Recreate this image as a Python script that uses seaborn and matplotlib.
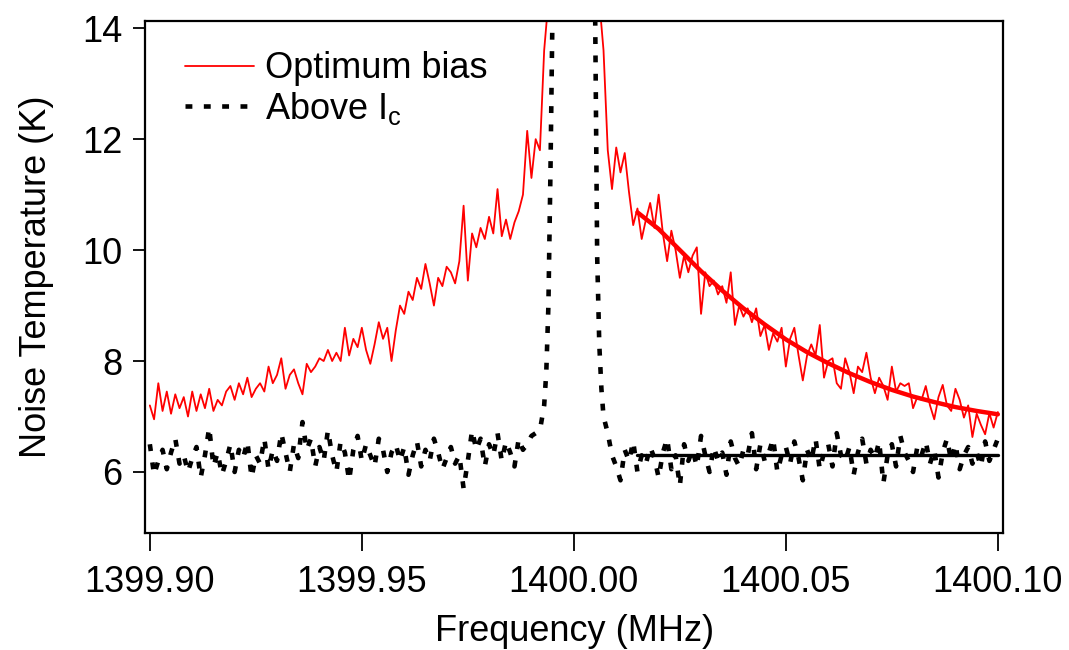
import numpy as np
import matplotlib
matplotlib.use("Agg")
import matplotlib.pyplot as plt
import seaborn as sns

# ---------------- data ----------------
# Optimum bias, lower side of the resonance (step 0.001 MHz from 1399.900)
red_left_start = 1399.900
red_left = [7.2, 6.95, 7.6, 7.1, 7.45, 7.05, 7.4, 7.15, 7.35, 7.0,
            7.45, 7.1, 7.4, 7.15, 7.5, 7.1, 7.3, 7.2, 7.45, 7.55,
            7.3, 7.6, 7.4, 7.7, 7.35, 7.5, 7.6, 7.45, 7.9, 7.6,
            7.75, 8.05, 7.5, 7.75, 7.85, 7.6, 7.4, 7.95, 7.8, 7.9,
            8.05, 8.0, 8.2, 8.0, 8.15, 8.0, 8.6, 8.1, 8.4, 8.25,
            8.6, 8.2, 7.95, 8.3, 8.7, 8.4, 8.6, 8.0, 8.55, 9.0,
            8.85, 9.25, 9.1, 9.5, 9.3, 9.75, 9.4, 9.0, 9.5, 9.35,
            9.7, 9.6, 9.4, 9.8, 10.8, 9.45, 10.3, 10.05, 10.4, 10.2,
            10.6, 10.3, 11.1, 10.25, 10.55, 10.2, 10.5, 10.7, 11.0, 12.15,
            11.3, 12.0, 11.8, 13.6, 14.5]

# Optimum bias, upper side (step 0.001 MHz from 1400.006)
red_right_start = 1400.006
red_right = [14.5, 13.6, 11.8, 11.1, 11.85, 11.4, 11.75, 11.05, 10.45, 10.75,
             10.2, 10.55, 10.85, 10.4, 11.0, 10.3, 9.8, 10.35, 10.0, 9.5,
             9.9, 9.6, 9.9, 10.05, 8.85, 9.6, 9.35, 9.45, 9.2, 9.35,
             9.05, 9.6, 8.65, 9.0, 8.8, 8.95, 8.7, 8.95, 8.45, 8.65,
             8.2, 8.5, 8.35, 8.6, 7.9, 8.4, 8.6, 8.1, 7.65, 8.1,
             8.3, 8.1, 8.65, 7.7, 8.0, 8.05, 7.6, 7.5, 8.05, 7.8,
             7.42, 7.9, 7.8, 8.15, 7.7, 7.42, 7.7, 7.55, 7.3, 7.9,
             7.45, 7.6, 7.55, 7.6, 7.15, 7.35, 7.3, 7.55, 7.2, 6.95,
             7.35, 7.57, 7.2, 7.1, 7.5, 7.3, 6.98, 7.2, 6.63, 7.05,
             6.85, 6.68, 7.06, 6.8, 7.08]

# Fit to the upper side
fit_freq = [1400.015, 1400.020, 1400.025, 1400.030, 1400.035, 1400.040,
            1400.045, 1400.050, 1400.055, 1400.060, 1400.065, 1400.070,
            1400.075, 1400.080, 1400.085, 1400.090, 1400.095, 1400.100]
fit_red = [10.68, 10.38, 10.0, 9.62, 9.27, 8.95, 8.66, 8.39, 8.16, 7.96,
           7.78, 7.62, 7.48, 7.36, 7.26, 7.17, 7.10, 7.04]
fit_black = [6.31, 6.31, 6.31, 6.31, 6.31, 6.31, 6.31, 6.31, 6.31, 6.31,
             6.31, 6.31, 6.31, 6.31, 6.31, 6.31, 6.31, 6.31]

# Above Ic, lower side (step 0.001 MHz from 1399.900) then the edge
black_left_start = 1399.900
black_left = [6.5, 5.95, 6.2, 6.4, 6.05, 6.35, 6.6, 6.15, 6.3, 6.0,
              6.25, 6.45, 5.9, 6.3, 6.8, 6.1, 6.35, 5.95, 6.2, 6.5,
              6.0, 6.4, 6.25, 6.55, 5.9, 6.3, 6.15, 6.6, 6.05, 6.4,
              6.2, 6.7, 6.35, 6.0, 6.5, 6.25, 6.9, 6.4, 6.6, 6.1,
              6.45, 6.2, 6.75, 6.3, 6.0, 6.55, 6.35, 5.85, 6.4, 6.65,
              6.2, 6.5, 6.3, 6.1, 6.6, 6.4, 6.0, 6.35, 6.5, 6.2,
              6.45, 5.95, 6.3, 6.55, 6.1, 6.4, 6.2, 6.6, 6.35, 6.05,
              6.25, 6.45, 6.15, 6.3, 5.7, 6.2, 6.75, 6.4, 6.6, 6.1,
              6.5, 6.3, 6.7, 6.2, 6.55, 6.35, 6.1, 6.6, 6.4, 6.5,
              6.65, 6.7, 6.75]
black_left_edge_freq = [1399.9930, 1399.9935, 1399.9940, 1399.9945, 1399.9950]
black_left_edge = [7.2, 7.8, 9.0, 11.5, 14.5]

# Above Ic, upper side: edge then noise (step 0.001 MHz from 1400.010)
black_right_edge_freq = [1400.0050, 1400.0055, 1400.0060, 1400.0065,
                         1400.0070, 1400.0080, 1400.0090]
black_right_edge = [14.5, 9.9, 8.3, 7.5, 7.0, 6.7, 6.3]
black_right_start = 1400.010
black_right = [6.1, 5.85, 6.4, 6.2, 6.55, 6.0, 6.3, 6.15, 6.45, 6.25,
               5.9, 6.35, 6.6, 6.05, 6.3, 5.75, 6.5, 6.2, 6.4, 6.1,
               6.65, 6.3, 6.0, 6.45, 6.2, 6.35, 5.95, 6.55, 6.25, 6.1,
               6.4, 6.3, 6.7, 6.05, 6.5, 6.2, 6.35, 6.6, 6.0, 6.3,
               6.45, 6.15, 6.55, 6.25, 5.85, 6.4, 6.2, 6.6, 6.05, 6.35,
               6.5, 6.1, 6.7, 6.3, 6.2, 6.45, 5.95, 6.35, 6.6, 6.15,
               6.4, 6.25, 6.55, 5.8, 6.3, 6.5, 6.1, 6.65, 6.35, 6.2,
               6.0, 6.45, 6.3, 6.55, 6.15, 6.4, 5.9, 6.35, 6.6, 6.2,
               6.5, 6.05, 6.3, 6.45, 6.15, 6.35, 6.1, 6.55, 6.2, 6.4, 6.6]

x_ticks = [1399.90, 1399.95, 1400.00, 1400.05, 1400.10]
x_ticklabels = ["1399.90", "1399.95", "1400.00", "1400.05", "1400.10"]
y_ticks = [6, 8, 10, 12, 14]
x_label = "Frequency (MHz)"
y_label = "Noise Temperature (K)"
label_red = "Optimum bias"
label_black = r"Above I$_\mathregular{c}$"


def grid(start, values):
    return [round(start + 0.001 * i, 4) for i in range(len(values))]


red_x = grid(red_left_start, red_left) + [np.nan] + grid(red_right_start, red_right)
red_y = red_left + [np.nan] + red_right
blk_x = grid(black_left_start, black_left) + black_left_edge_freq + [np.nan] \
    + black_right_edge_freq + grid(black_right_start, black_right)
blk_y = black_left + black_left_edge + [np.nan] + black_right_edge + black_right

# ---------------- style ----------------
sns.set_theme(style="ticks")
plt.rcParams["font.family"] = ["Liberation Sans", "DejaVu Sans"]
plt.rcParams["mathtext.fontset"] = "custom"
plt.rcParams["mathtext.rm"] = "Liberation Sans"
plt.rcParams["text.color"] = "black"
plt.rcParams["axes.labelcolor"] = "black"
plt.rcParams["xtick.color"] = "black"
plt.rcParams["ytick.color"] = "black"

RED = "#ff0000"
FS = 26

fig = plt.figure(figsize=(10.69, 6.5), dpi=100)
ax = fig.add_axes([0.1358, 0.18, 0.8028, 0.7877])


def segments(xs, ys):
    seg_x, seg_y, out = [], [], []
    for a, b in zip(xs, ys):
        if np.isnan(a):
            out.append((seg_x, seg_y))
            seg_x, seg_y = [], []
        else:
            seg_x.append(a)
            seg_y.append(b)
    out.append((seg_x, seg_y))
    return out


for k, (sx, sy) in enumerate(segments(red_x, red_y)):
    sns.lineplot(x=sx, y=sy, ax=ax, color=RED, linewidth=1.3, sort=False,
                 estimator=None, label=label_red if k == 0 else None)

for k, (sx, sy) in enumerate(segments(blk_x, blk_y)):
    sns.lineplot(x=sx, y=sy, ax=ax, color="black", linewidth=3.3, sort=False,
                 estimator=None, linestyle=(0, (1.5, 2.5)),
                 label=label_black if k == 0 else None)

sns.lineplot(x=fit_freq, y=fit_red, ax=ax, color=RED, linewidth=3.2,
             sort=False, estimator=None)
sns.lineplot(x=fit_freq, y=fit_black, ax=ax, color="black", linewidth=2.4,
             sort=False, estimator=None)

ax.set_xlim(1399.8989, 1400.1013)
ax.set_ylim(4.9, 14.13)
ax.set_xticks(x_ticks)
ax.set_xticklabels(x_ticklabels)
ax.set_yticks(y_ticks)
ax.tick_params(axis="both", labelsize=FS, colors="black", width=1.3)
ax.tick_params(axis="x", length=13, pad=10, top=False)
ax.tick_params(axis="y", length=8.5, pad=8, right=False)
for s in ax.spines.values():
    s.set_visible(True)
    s.set_linewidth(1.6)
    s.set_color("black")

ax.set_xlabel(x_label, fontsize=FS, labelpad=10, color="black")
ax.set_ylabel(y_label, fontsize=FS, labelpad=20, color="black")

leg = ax.legend(loc="upper left", bbox_to_anchor=(0.030, 0.969),
                frameon=False, fontsize=FS,
                handlelength=1.9, handletextpad=0.3, labelspacing=0.1,
                borderaxespad=0.0, borderpad=0.4)
for t in leg.get_texts():
    t.set_color("black")

fig.savefig("out.png", dpi=100)
